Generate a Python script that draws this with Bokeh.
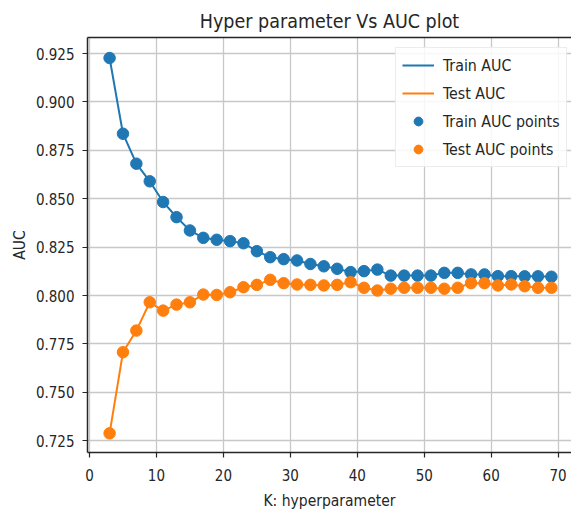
from bokeh.plotting import figure
from bokeh.models import (FixedTicker, PrintfTickFormatter, LinearAxis, Legend,
                          LegendItem, Range1d)
from bokeh.embed import file_html
from bokeh.resources import INLINE

# ---- data ----
k_values = [3, 5, 7, 9, 11, 13, 15, 17, 19, 21, 23, 25, 27, 29, 31, 33, 35,
            37, 39, 41, 43, 45, 47, 49, 51, 53, 55, 57, 59, 61, 63, 65, 67, 69]
train_auc = [0.9227, 0.8836, 0.8681, 0.8590, 0.8483, 0.8405, 0.8336, 0.8298,
             0.8288, 0.8281, 0.8270, 0.8229, 0.8198, 0.8188, 0.8181, 0.8163,
             0.8151, 0.8138, 0.8121, 0.8126, 0.8134, 0.8103, 0.8103, 0.8103,
             0.8103, 0.8117, 0.8117, 0.8109, 0.8109, 0.8100, 0.8100, 0.8099,
             0.8099, 0.8097]
test_auc = [0.7288, 0.7707, 0.7819, 0.7965, 0.7922, 0.7953, 0.7965, 0.8005,
            0.8003, 0.8017, 0.8043, 0.8055, 0.8081, 0.8064, 0.8057, 0.8055,
            0.8052, 0.8055, 0.8069, 0.8040, 0.8026, 0.8035, 0.8040, 0.8040,
            0.8040, 0.8035, 0.8040, 0.8064, 0.8064, 0.8052, 0.8057, 0.8048,
            0.8040, 0.8040]
x_ticks = [0, 10, 20, 30, 40, 50, 60, 70]
y_ticks = [0.725, 0.750, 0.775, 0.800, 0.825, 0.850, 0.875, 0.900, 0.925]

title_text = "Hyper parameter Vs AUC plot"
x_label = "K: hyperparameter"
y_label = "AUC"

BLUE = "#1f77b4"
ORANGE = "#ff7f0e"
FONT = "DejaVu Sans Condensed"
INK = "#262626"

p = figure(width=571, height=515, output_backend="svg", toolbar_location=None,
           x_range=Range1d(-0.3, 72.0), y_range=Range1d(0.7189, 0.9333),
           min_border_left=87, min_border_right=0, min_border_top=37,
           min_border_bottom=63)
p.title.text = title_text
p.title.align = "center"
p.title.text_font = FONT
p.title.text_font_size = "19.5px"
p.title.text_font_style = "normal"
p.title.text_color = INK

p.outline_line_color = None
p.background_fill_color = "white"
p.border_fill_color = "white"

# grid
for g in (p.xgrid, p.ygrid):
    g.grid_line_color = "#c8c8c8"
    g.grid_line_width = 1.3
p.xgrid.ticker = FixedTicker(ticks=x_ticks)
p.ygrid.ticker = FixedTicker(ticks=y_ticks)

# axes
p.xaxis.ticker = FixedTicker(ticks=x_ticks)
p.yaxis.ticker = FixedTicker(ticks=y_ticks)
p.yaxis.formatter = PrintfTickFormatter(format="%.3f")
p.xaxis.axis_label = x_label
p.yaxis.axis_label = y_label
for ax in (p.xaxis, p.yaxis):
    ax.axis_line_color = INK
    ax.axis_line_width = 1.5
    ax.major_tick_line_color = INK
    ax.major_tick_line_width = 1.2
    ax.major_tick_out = 5
    ax.major_tick_in = 0
    ax.minor_tick_line_color = None
    ax.major_label_text_font = FONT
    ax.major_label_text_font_size = "15px"
    ax.major_label_text_color = INK
    ax.axis_label_text_font = FONT
    ax.axis_label_text_font_size = "15.5px"
    ax.axis_label_text_font_style = "normal"
    ax.axis_label_text_color = INK
p.yaxis.major_label_standoff = 8
p.yaxis.axis_label_standoff = 4
p.xaxis.major_label_standoff = 11
p.xaxis.axis_label_standoff = 8

# top spine
top = LinearAxis(ticker=FixedTicker(ticks=[]), major_tick_line_color=None,
                 minor_tick_line_color=None, major_label_text_font_size="0px",
                 major_label_standoff=0, axis_line_color=INK,
                 axis_line_width=1.5)
p.add_layout(top, "above")

# series
l1 = p.line(k_values, train_auc, line_color=BLUE, line_width=2)
l2 = p.line(k_values, test_auc, line_color=ORANGE, line_width=2)
s1 = p.scatter(k_values, train_auc, size=11.5, fill_color=BLUE, line_color=BLUE)
s2 = p.scatter(k_values, test_auc, size=11.5, fill_color=ORANGE, line_color=ORANGE)

legend = Legend(items=[
    LegendItem(label="Train AUC", renderers=[l1]),
    LegendItem(label="Test AUC", renderers=[l2]),
    LegendItem(label="Train AUC points", renderers=[s1]),
    LegendItem(label="Test AUC points", renderers=[s2]),
])
legend.location = (308, 285)
legend.margin = 0
legend.padding = 6
legend.spacing = 6
legend.glyph_width = 32
legend.glyph_height = 22
legend.label_height = 22
legend.label_standoff = 9
legend.label_text_font = FONT
legend.label_text_font_size = "15.8px"
legend.label_text_color = INK
legend.border_line_color = "#d9d9d9"
legend.border_line_width = 1
legend.background_fill_alpha = 0.85
p.add_layout(legend, "center")

open("out.html", "w").write(file_html(p, INLINE))
